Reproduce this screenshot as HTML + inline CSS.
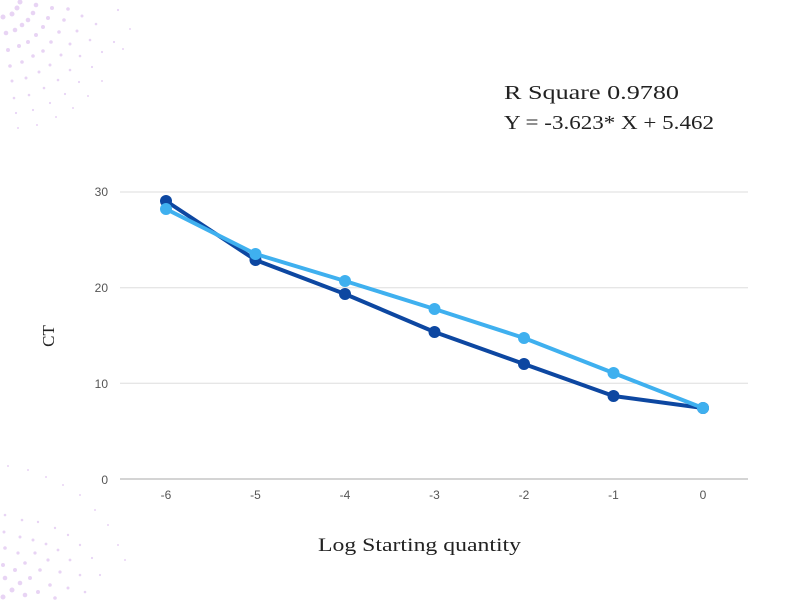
<!DOCTYPE html>
<html><head><style>
body{margin:0;background:#fff;width:787px;height:600px;overflow:hidden;font-family:"Liberation Serif",serif;}
</style></head><body>
<svg width="787" height="600" viewBox="0 0 787 600" xmlns="http://www.w3.org/2000/svg">
<g fill="#d9b8ee" opacity="0.6">
<circle cx="3" cy="17" r="2.5"/><circle cx="12" cy="14" r="2.5"/><circle cx="17" cy="8" r="2.5"/><circle cx="20" cy="2" r="2.5"/>
<circle cx="6" cy="33" r="2.3"/><circle cx="15" cy="30" r="2.3"/><circle cx="22" cy="25" r="2.3"/><circle cx="28" cy="20" r="2.3"/><circle cx="33" cy="13" r="2.3"/><circle cx="36" cy="5" r="2.3"/>
<circle cx="8" cy="50" r="2"/><circle cx="19" cy="46" r="2"/><circle cx="28" cy="42" r="2"/><circle cx="36" cy="35" r="2"/><circle cx="43" cy="27" r="2"/><circle cx="48" cy="18" r="2"/><circle cx="52" cy="8" r="2"/>
<circle cx="10" cy="66" r="1.8"/><circle cx="22" cy="62" r="1.8"/><circle cx="33" cy="56" r="1.8"/><circle cx="43" cy="51" r="1.8"/><circle cx="51" cy="42" r="1.8"/><circle cx="59" cy="32" r="1.8"/><circle cx="64" cy="20" r="1.8"/><circle cx="68" cy="9" r="1.8"/>
<circle cx="12" cy="81" r="1.5"/><circle cx="26" cy="78" r="1.5"/><circle cx="39" cy="72" r="1.5"/><circle cx="50" cy="65" r="1.5"/><circle cx="61" cy="55" r="1.5"/><circle cx="70" cy="44" r="1.5"/><circle cx="77" cy="31" r="1.5"/><circle cx="82" cy="16" r="1.5"/>
<circle cx="14" cy="98" r="1.3"/><circle cx="29" cy="95" r="1.3"/><circle cx="44" cy="88" r="1.3"/><circle cx="58" cy="80" r="1.3"/><circle cx="70" cy="70" r="1.3"/><circle cx="80" cy="56" r="1.3"/><circle cx="90" cy="40" r="1.3"/><circle cx="96" cy="24" r="1.3"/>
<circle cx="16" cy="113" r="1.1"/><circle cx="33" cy="110" r="1.1"/><circle cx="50" cy="103" r="1.1"/><circle cx="65" cy="94" r="1.1"/><circle cx="79" cy="82" r="1.1"/><circle cx="92" cy="67" r="1.1"/><circle cx="102" cy="52" r="1.1"/><circle cx="114" cy="42" r="1.1"/><circle cx="118" cy="10" r="1.1"/>
<circle cx="18" cy="128" r="1"/><circle cx="37" cy="125" r="1"/><circle cx="56" cy="117" r="1"/><circle cx="73" cy="108" r="1"/><circle cx="88" cy="96" r="1"/><circle cx="102" cy="81" r="1"/><circle cx="123" cy="49" r="1"/><circle cx="130" cy="29" r="1"/>
<circle cx="3" cy="597" r="2.5"/><circle cx="12" cy="590" r="2.5"/><circle cx="20" cy="583" r="2.3"/><circle cx="5" cy="578" r="2.3"/><circle cx="25" cy="595" r="2.3"/><circle cx="15" cy="570" r="2"/><circle cx="30" cy="578" r="2"/><circle cx="38" cy="592" r="2"/><circle cx="3" cy="565" r="2"/><circle cx="25" cy="563" r="1.8"/><circle cx="40" cy="570" r="1.8"/><circle cx="50" cy="585" r="1.8"/><circle cx="55" cy="598" r="1.8"/><circle cx="5" cy="548" r="1.8"/><circle cx="18" cy="553" r="1.6"/><circle cx="35" cy="553" r="1.6"/><circle cx="48" cy="560" r="1.6"/><circle cx="60" cy="572" r="1.6"/><circle cx="68" cy="588" r="1.5"/><circle cx="4" cy="532" r="1.5"/><circle cx="20" cy="537" r="1.5"/><circle cx="33" cy="540" r="1.5"/><circle cx="46" cy="544" r="1.4"/><circle cx="58" cy="550" r="1.4"/><circle cx="70" cy="560" r="1.4"/><circle cx="80" cy="575" r="1.3"/><circle cx="85" cy="592" r="1.3"/><circle cx="5" cy="515" r="1.3"/><circle cx="22" cy="520" r="1.3"/><circle cx="38" cy="522" r="1.2"/><circle cx="55" cy="528" r="1.2"/><circle cx="68" cy="535" r="1.2"/><circle cx="80" cy="545" r="1.2"/><circle cx="92" cy="558" r="1.1"/><circle cx="100" cy="575" r="1.1"/><circle cx="8" cy="466" r="1"/><circle cx="28" cy="470" r="1"/><circle cx="46" cy="477" r="1"/><circle cx="63" cy="485" r="1"/><circle cx="80" cy="495" r="1"/><circle cx="95" cy="510" r="1"/><circle cx="108" cy="525" r="1"/><circle cx="118" cy="545" r="1"/><circle cx="125" cy="560" r="1"/>
</g>
<g stroke="#dddddd" stroke-width="1">
<line x1="120" y1="192" x2="748" y2="192"/><line x1="120" y1="287.7" x2="748" y2="287.7"/><line x1="120" y1="383.3" x2="748" y2="383.3"/>
</g>
<line x1="120" y1="479" x2="748" y2="479" stroke="#aaaaaa"/>
<g font-family="Liberation Sans, sans-serif" font-size="12" fill="#555">
<text x="108" y="196" text-anchor="end">30</text><text x="108" y="292" text-anchor="end">20</text><text x="108" y="388" text-anchor="end">10</text><text x="108" y="484" text-anchor="end">0</text>
<g text-anchor="middle"><text x="166" y="499">-6</text><text x="255.5" y="499">-5</text><text x="345" y="499">-4</text><text x="434.5" y="499">-3</text><text x="524" y="499">-2</text><text x="613.5" y="499">-1</text><text x="703" y="499">0</text></g>
</g>
<polyline fill="none" stroke="#0d47a1" stroke-width="4" stroke-linejoin="round" points="166,201 255.5,260 345,294 434.5,332 524,364 613.5,396 703,408"/>
<g fill="#0d47a1"><circle cx="166" cy="201" r="6"/><circle cx="255.5" cy="260" r="6"/><circle cx="345" cy="294" r="6"/><circle cx="434.5" cy="332" r="6"/><circle cx="524" cy="364" r="6"/><circle cx="613.5" cy="396" r="6"/><circle cx="703" cy="408" r="6"/></g>
<polyline fill="none" stroke="#3fb0ef" stroke-width="4" stroke-linejoin="round" points="166,209 255.5,254 345,281 434.5,309 524,338 613.5,373 703,408"/>
<g fill="#3fb0ef"><circle cx="166" cy="209" r="6"/><circle cx="255.5" cy="254" r="6"/><circle cx="345" cy="281" r="6"/><circle cx="434.5" cy="309" r="6"/><circle cx="524" cy="364" r="0" /><circle cx="524" cy="338" r="6"/><circle cx="613.5" cy="373" r="6"/><circle cx="703" cy="408" r="6"/></g>
<text x="54" y="336" font-size="17" fill="#222" text-anchor="middle" transform="rotate(-90 54 336)">CT</text>
<text x="318" y="551" font-size="19" fill="#222" textLength="203" lengthAdjust="spacingAndGlyphs">Log Starting quantity</text>
<text x="504" y="99" font-size="20" fill="#222" textLength="175" lengthAdjust="spacingAndGlyphs">R Square  0.9780</text>
<text x="504" y="129" font-size="20" fill="#222" textLength="210" lengthAdjust="spacingAndGlyphs">Y = -3.623* X + 5.462</text>
</svg>
</body></html>
